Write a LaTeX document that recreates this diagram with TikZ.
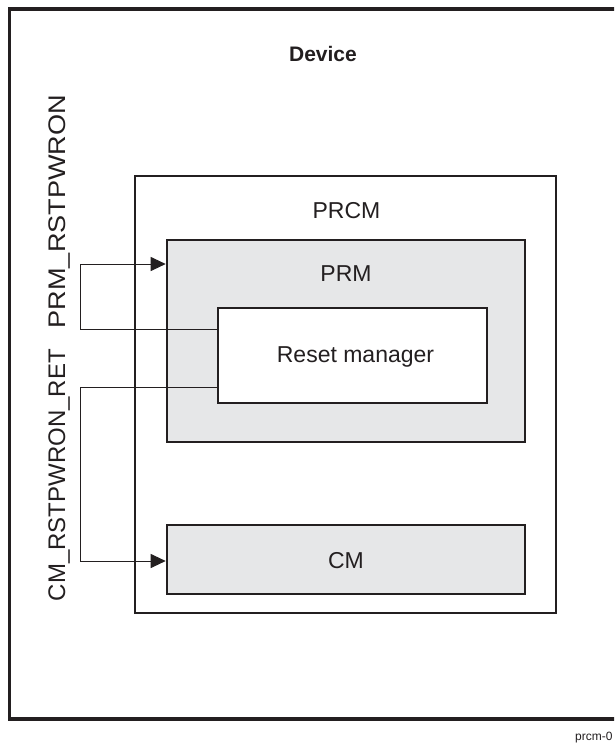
\documentclass[tikz,border=0pt]{standalone}
\usepackage{fontspec}
\usepackage{graphicx}
\setmainfont{Liberation Sans}
\usetikzlibrary{arrows.meta}
\definecolor{ink}{HTML}{231F20}
\definecolor{boxgray}{HTML}{E6E7E8}
\tikzset{
  frame/.style={draw=ink, line width=2.6pt, rectangle, inner sep=0pt},
  grayframe/.style={frame, fill=boxgray},
  lbl/.style={font=\fontsize{23}{26}\selectfont, text=ink, inner sep=0pt, anchor=base},
  sidelbl/.style={font=\fontsize{24}{28}\selectfont, text=ink, inner sep=0pt, rotate=90, anchor=base},
  conn/.style={draw=ink, line width=1pt},
  arr/.style={conn, -{Triangle[length=15pt,width=14pt]}}
}
\begin{document}
\begin{tikzpicture}[x=1pt,y=-1pt]
\useasboundingbox (0,0) rectangle (614,744);
\clip (0,0) rectangle (614,744);
\fill[white] (0,0) rectangle (614,744);
% boxes
\node[frame, line width=3.6pt, minimum width=610.5pt, minimum height=710pt] (device) at (314.75,364) {};
\node[frame, minimum width=421pt, minimum height=437pt] (prcm) at (345.5,394.5) {};
\node[grayframe, minimum width=358pt, minimum height=202pt] (prm) at (346,341) {};
\node[frame, fill=white, minimum width=269pt, minimum height=95pt] (rm) at (352.5,355.5) {};
\node[grayframe, minimum width=358pt, minimum height=69pt] (cm) at (346,559.5) {};
% labels
\node[lbl, font=\fontsize{21}{24}\selectfont\bfseries] (tdev) at (323,61.5) {Device};
\node[lbl] (tprcm) at (346.5,218) {PRCM};
\node[lbl] (tprm) at (346,281.5) {PRM};
\node[lbl] (trm) at (355.5,362) {Reset manager};
\node[lbl] (tcm) at (346,568) {CM};
\node[sidelbl] (ts1) at (65,211.5) {\scalebox{1.13}[1]{PRM\_RSTPWRON}};
\node[sidelbl] (ts2) at (65,475) {CM\_RSTPWRON\_RET};
\node[font=\fontsize{12}{14}\selectfont, text=ink, inner sep=0pt, anchor=base west] (tid) at (575,740) {prcm-0};
% connectors
\coordinate (y1) at (0,329);
\coordinate (k1) at (80,264);
\coordinate (y2) at (0,387);
\coordinate (k2) at (80,561);
\draw[arr] ([xshift=2pt]rm.west |- y1) -| (k1) -- (prm.west |- k1);
\draw[arr] ([xshift=2pt]rm.west |- y2) -| (k2) -- (cm.west |- k2);
\end{tikzpicture}
\end{document}
